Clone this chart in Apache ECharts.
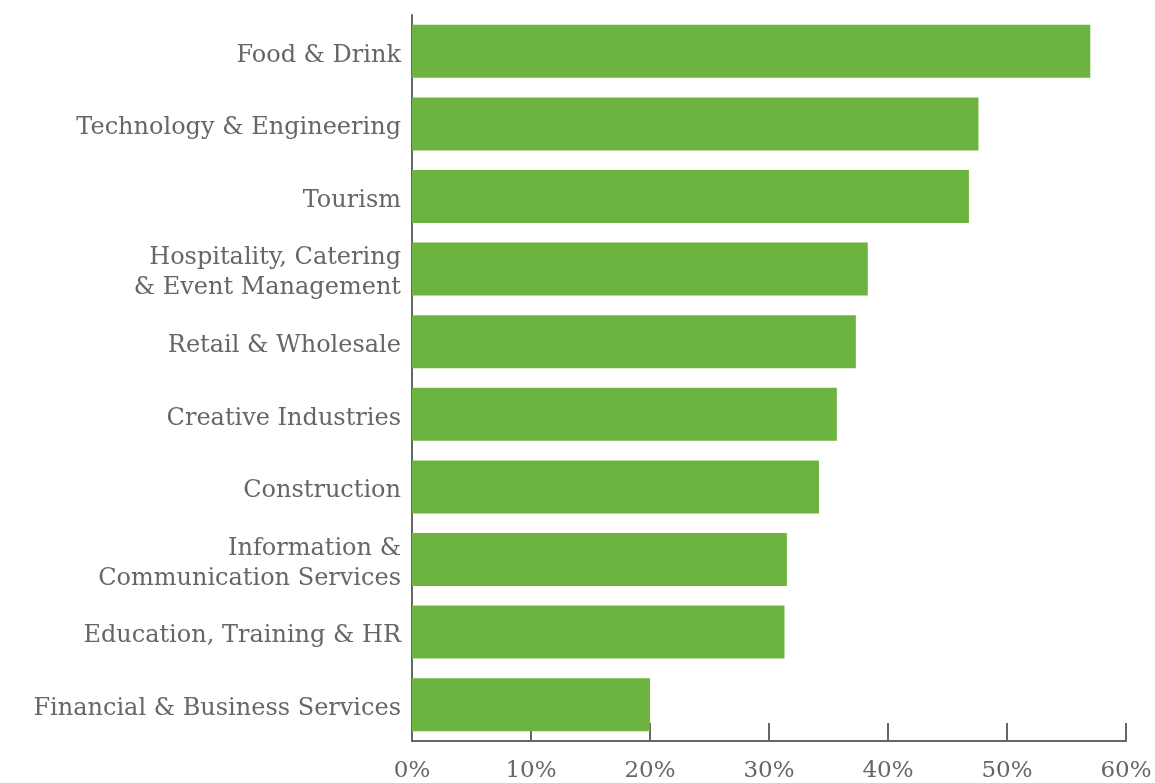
<!DOCTYPE html>
<html>
<head>
<meta charset="utf-8">
<title>Sectors</title>
<script src="https://cdn.jsdelivr.net/npm/echarts@6/dist/echarts.min.js"></script>
<style>
  html, body { margin: 0; padding: 0; background: #ffffff; }
  #chart { width: 1155px; height: 783px; }
</style>
</head>
<body>
<div id="chart"></div>
<script>
// Sector names, top to bottom
const sectors = [
  'Food & Drink',
  'Technology & Engineering',
  'Tourism',
  'Hospitality, Catering\n& Event Management',
  'Retail & Wholesale',
  'Creative Industries',
  'Construction',
  'Information &\nCommunication Services',
  'Education, Training & HR',
  'Financial & Business Services'
];

// Share of respondents per sector (%)
const shares = [57.0, 47.6, 46.8, 38.3, 37.3, 35.7, 34.2, 31.5, 31.3, 20.0];

// Value axis ticks (%)
const tickMin = 0;
const tickMax = 60;
const tickStep = 10;

const textColor = '#666666';
const axisColor = '#666666';
const barColor = '#6db33f';
const fontFamily = '"DejaVu Serif", "Liberation Serif", serif';

const chart = echarts.init(document.getElementById('chart'), null, { renderer: 'canvas' });

// A thin spacer line above each label nudges the text slightly below the band centre
function sectorLabel(name) {
  return '{s| }\n' + name.split('\n').map(line => '{a|' + line + '}').join('\n');
}

chart.setOption({
  animation: false,
  backgroundColor: '#ffffff',
  grid: { left: 412, right: 29, top: 15, bottom: 41, containLabel: false },
  xAxis: {
    type: 'value',
    min: tickMin,
    max: tickMax,
    interval: tickStep,
    axisLine: { show: true, lineStyle: { color: axisColor, width: 2 } },
    axisTick: { show: true, inside: true, length: 18, lineStyle: { color: axisColor, width: 2 } },
    splitLine: { show: false },
    axisLabel: {
      color: textColor,
      fontFamily: fontFamily,
      fontSize: 23,
      margin: 19,
      formatter: v => v + '%'
    }
  },
  yAxis: {
    type: 'category',
    data: sectors,
    inverse: true,
    axisLine: { show: true, lineStyle: { color: axisColor, width: 2 } },
    axisTick: { show: false },
    axisLabel: {
      margin: 11,
      align: 'right',
      formatter: sectorLabel,
      rich: {
        s: { fontSize: 4, lineHeight: 8, align: 'right' },
        a: {
          color: textColor,
          fontFamily: fontFamily,
          fontSize: 24,
          lineHeight: 30,
          align: 'right'
        }
      }
    }
  },
  series: [{
    type: 'bar',
    data: shares,
    barCategoryGap: '27%',
    itemStyle: { color: barColor },
    z: 1
  }]
});
</script>
</body>
</html>
